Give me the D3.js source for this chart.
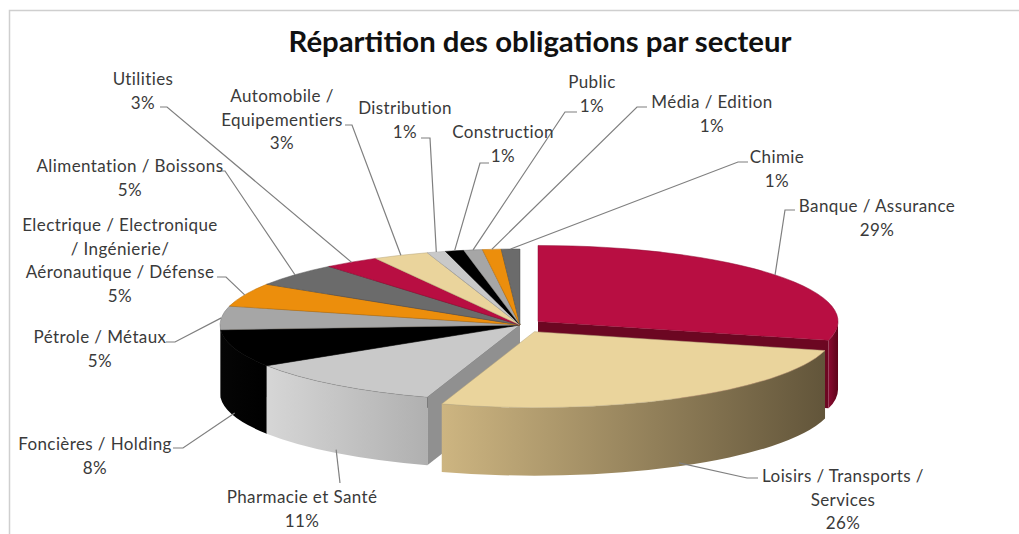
<!DOCTYPE html>
<html lang="fr">
<head>
<meta charset="utf-8">
<title>Répartition des obligations par secteur</title>
<script src="https://cdn.jsdelivr.net/npm/d3@7/dist/d3.min.js"></script>
<style>
  body { margin: 0; background: #fff; }
  svg { display: block; }
  .lbl { font-family: Lato, "Open Sans", sans-serif; font-size: 17px; letter-spacing: 0.4px; fill: #3a3a3a; }
  .title { font-family: Lato, "Open Sans", sans-serif; font-size: 28px; font-weight: bold; fill: #111; }
  .leader { fill: none; stroke: #7f7f7f; stroke-width: 1.2; }
</style>
</head>
<body>
<svg width="1019" height="534"></svg>
<script>
// data
var sectors = ["Banque / Assurance", "Loisirs / Transports / Services", "Pharmacie et Santé",
  "Foncières / Holding", "Pétrole / Métaux",
  "Electrique / Electronique / Ingénierie/ Aéronautique / Défense",
  "Alimentation / Boissons", "Utilities", "Automobile / Equipementiers", "Distribution",
  "Construction", "Public", "Média / Edition", "Chimie"];
var shares = [29, 26, 11, 8, 5, 5, 5, 3, 3, 1, 1, 1, 1, 1];
var labelLines = [["Banque / Assurance"], ["Loisirs / Transports /", "Services"], ["Pharmacie et Santé"],
  ["Foncières / Holding"], ["Pétrole / Métaux"],
  ["Electrique / Electronique", "/ Ingénierie/", "Aéronautique / Défense"],
  ["Alimentation / Boissons"], ["Utilities"], ["Automobile /", "Equipementiers"], ["Distribution"],
  ["Construction"], ["Public"], ["Média / Edition"], ["Chimie"]];

// style / layout
var topColors  = ["#b80e42", "#ead49c", "#c9c9c9", "#000000", "#a6a6a6", "#ec8e0c", "#6b6b6b"];
var sideColors = [["#8a0a30", "#5c0419"], ["#cdb581", "#62553a"], ["#d6d6d6", "#b0b0b0"],
  ["#050505", "#000000"], ["#9a9a9a", "#7a7a7a"], ["#c97808", "#8e5406"], ["#5c5c5c", "#444"]];
var faceColors = ["#6c0722", "#8a7a55", "#909090", "#000", "#808080", "#a86404", "#4a4a4a"];
var explode = {0: 0.076, 1: 0.1};

var cx = 520, cy = 325, rx = 300, ry = 76, depth = 68;

// label placement: x centre, first baseline, leader elbow and tail
var labelPos = [
  {x: 877, y: 212, elbow: [785, 210], tail: [795, 210]},
  {x: 843, y: 482, elbow: [747, 478], tail: [758, 478]},
  {x: 302, y: 503, elbow: [340, 483], tail: null},
  {x: 95,  y: 450, elbow: [183, 448], tail: [173, 448]},
  {x: 100, y: 343, elbow: [175, 342], tail: [166, 342]},
  {x: 120, y: 231, elbow: [226, 277], tail: [217, 277]},
  {x: 130, y: 172, elbow: [225, 171], tail: [218, 171]},
  {x: 143, y: 85,  elbow: [167, 107], tail: [160, 107]},
  {x: 282, y: 102, elbow: [352, 125], tail: [345, 125]},
  {x: 405, y: 114, elbow: [430, 138], tail: [421, 138]},
  {x: 503, y: 138, elbow: [480, 163], tail: [489, 163]},
  {x: 592, y: 88,  elbow: [565, 112], tail: [577, 112]},
  {x: 712, y: 108, elbow: [637, 107], tail: [647, 107]},
  {x: 777, y: 163, elbow: [738, 162], tail: [748, 162]}
];

var svg = d3.select("svg");
var defs = svg.append("defs");

// frame
svg.append("path").attr("d", "M9.5,534 V10.5 H1019")
  .attr("fill", "none").attr("stroke", "#cfcfcf").attr("stroke-width", 1.5);

svg.append("text").attr("class", "title")
  .attr("x", 540).attr("y", 52).attr("text-anchor", "middle")
  .attr("textLength", 503).attr("lengthAdjust", "spacingAndGlyphs")
  .text("Répartition des obligations par secteur");

var pie = d3.pie().sort(null).value(function(d) { return d; });
var arcs = pie(shares).map(function(a, i) {
  var mid = (a.startAngle + a.endAngle) / 2;
  var e = explode[i] || 0;
  a.i = i;
  a.mid = mid;
  a.col = i % 7;
  a.ox = e * rx * Math.sin(mid);
  a.oy = -e * ry * Math.cos(mid);
  return a;
});

function pt(a, t, z) {
  return [cx + a.ox + rx * Math.sin(t), cy + a.oy - ry * Math.cos(t) + (z || 0)];
}
function apex(a, z) { return [cx + a.ox, cy + a.oy + (z || 0)]; }

sideColors.forEach(function(c, k) {
  var g = defs.append("linearGradient").attr("id", "side" + k)
    .attr("x1", 0).attr("x2", 1).attr("y1", 0).attr("y2", 0);
  g.append("stop").attr("offset", "0%").attr("stop-color", c[0]);
  g.append("stop").attr("offset", "100%").attr("stop-color", c[1]);
});

var pieG = svg.append("g");

// radial faces that look towards the viewer
var faces = [];
arcs.forEach(function(a) {
  if (Math.sin(a.startAngle) < -0.01) faces.push({a: a, t: a.startAngle});
  if (Math.sin(a.endAngle) > 0.01) faces.push({a: a, t: a.endAngle});
});
faces.sort(function(p, q) { return Math.cos(q.t) - Math.cos(p.t); });
pieG.selectAll("path.face").data(faces).enter().append("path")
  .attr("class", "face")
  .attr("fill", function(f) { return faceColors[f.a.col]; })
  .attr("d", function(f) {
    var p0 = apex(f.a), p1 = pt(f.a, f.t), p2 = pt(f.a, f.t, depth), p3 = apex(f.a, depth);
    return "M" + p0 + "L" + p1 + "L" + p2 + "L" + p3 + "Z";
  });

// outer walls (front half only)
var walls = arcs.filter(function(a) {
  return a.endAngle > Math.PI / 2 && a.startAngle < 3 * Math.PI / 2;
}).map(function(a) {
  return {a: a, t0: Math.max(a.startAngle, Math.PI / 2), t1: Math.min(a.endAngle, 3 * Math.PI / 2)};
});
walls.sort(function(p, q) {
  return Math.abs((q.t0 + q.t1) / 2 - Math.PI) - Math.abs((p.t0 + p.t1) / 2 - Math.PI);
});
pieG.selectAll("path.wall").data(walls).enter().append("path")
  .attr("class", "wall")
  .attr("fill", function(w) { return "url(#side" + w.a.col + ")"; })
  .attr("d", function(w) {
    var a = w.a, big = (w.t1 - w.t0) > Math.PI ? 1 : 0;
    var p0 = pt(a, w.t0), p1 = pt(a, w.t1), p2 = pt(a, w.t1, depth), p3 = pt(a, w.t0, depth);
    return "M" + p0 + "A" + rx + "," + ry + " 0 " + big + " 1 " + p1 +
      "L" + p2 + "A" + rx + "," + ry + " 0 " + big + " 0 " + p3 + "Z";
  });

// top faces
pieG.selectAll("path.top").data(arcs).enter().append("path")
  .attr("class", "top")
  .attr("fill", function(a) { return topColors[a.col]; })
  .attr("stroke", function(a) { return d3.color(topColors[a.col]).darker(0.7); })
  .attr("stroke-width", 0.5)
  .attr("d", function(a) {
    var c = apex(a), p0 = pt(a, a.startAngle), p1 = pt(a, a.endAngle);
    var big = (a.endAngle - a.startAngle) > Math.PI ? 1 : 0;
    return "M" + c + "L" + p0 + "A" + rx + "," + ry + " 0 " + big + " 1 " + p1 + "Z";
  });

// leader lines
function anchor(a) {
  var p = pt(a, a.mid);
  if (a.mid > 2.4 && a.mid < 4.5) p[1] += depth * 0.95;
  return p;
}
svg.selectAll("path.leader").data(arcs).enter().append("path")
  .attr("class", "leader")
  .attr("d", function(a) {
    var lp = labelPos[a.i], p = anchor(a);
    var d = "M" + p + "L" + lp.elbow;
    if (lp.tail) d += "L" + lp.tail;
    return d;
  });

// labels
var lbl = svg.selectAll("text.lbl").data(arcs).enter().append("text")
  .attr("class", "lbl")
  .attr("text-anchor", "middle");
lbl.each(function(a) {
  var lp = labelPos[a.i];
  var lines = labelLines[a.i].concat([a.data + "%"]);
  var t = d3.select(this);
  lines.forEach(function(s, k) {
    t.append("tspan").attr("x", lp.x).attr("y", lp.y + k * 23.5).text(s);
  });
});
</script>
</body>
</html>
